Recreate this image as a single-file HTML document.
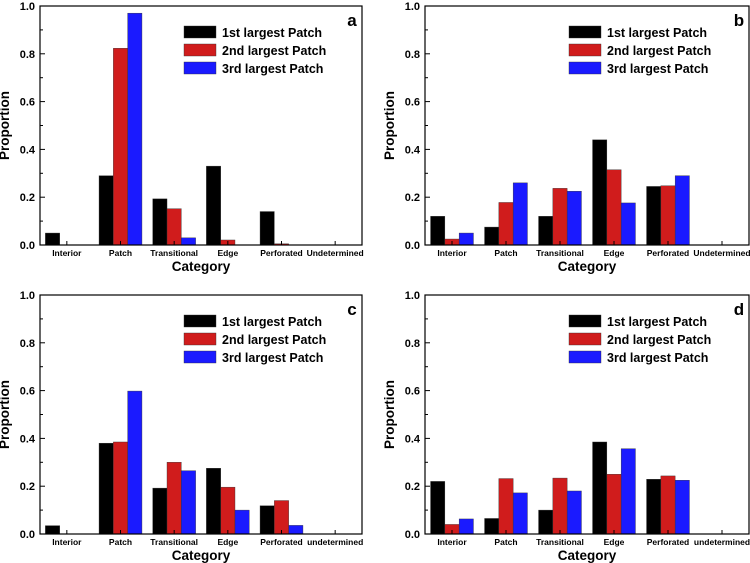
<!DOCTYPE html>
<html><head><meta charset="utf-8"><style>
html,body{margin:0;padding:0;background:#fff;}
svg{display:block;font-family:"Liberation Sans",Arial,sans-serif;font-weight:bold;}
</style></head><body>
<svg id="chart" width="750" height="563" viewBox="0 0 750 563" xmlns="http://www.w3.org/2000/svg"></svg>
<script>
const categoriesAB = ["Interior","Patch","Transitional","Edge","Perforated","Undetermined"];
const categoriesC = ["Interior","Patch","Transitional","Edge","Perforated","undetermined"];
const seriesNames = ["1st largest Patch","2nd largest Patch","3rd largest Patch"];
const yTicks = ["0.0","0.2","0.4","0.6","0.8","1.0"];
const a1 = [0.05,0.29,0.193,0.33,0.14,0];
const a2 = [0,0.823,0.152,0.021,0.005,0];
const a3 = [0,0.97,0.03,0,0,0];
const b1 = [0.12,0.075,0.12,0.44,0.245,0];
const b2 = [0.025,0.178,0.237,0.315,0.248,0];
const b3 = [0.05,0.26,0.225,0.176,0.29,0];
const c1 = [0.035,0.38,0.192,0.275,0.118,0];
const c2 = [0,0.385,0.3,0.196,0.14,0];
const c3 = [0,0.598,0.265,0.1,0.036,0];
const d1 = [0.22,0.065,0.10,0.385,0.229,0];
const d2 = [0.04,0.232,0.234,0.25,0.243,0];
const d3 = [0.063,0.172,0.18,0.357,0.225,0];

const colors = ["#000000","#d01c1c","#1a1aff"];
const NS = "http://www.w3.org/2000/svg";
const svg = document.getElementById("chart");
function mk(tag, attrs, parent, text){
  const e = document.createElementNS(NS, tag);
  for (const k in attrs) e.setAttribute(k, attrs[k]);
  if (text !== undefined) e.textContent = text;
  (parent||svg).appendChild(e);
  return e;
}
function panel(id, x0, x1, yTop, yBot, cats, s1, s2, s3){
  const g = mk("g", {});
  
  
  const yS = v => yBot - v*(yBot-yTop);
  const step = (x1-x0)/cats.length;
  const xC = i => x0 + step*(i+0.5);
  const bw = 14.3;
  const series = [s1,s2,s3];
  series.forEach((arr, si) => {
    arr.forEach((v, i) => {
      if (v <= 0) return;
      const r = mk("rect", {x: xC(i) - bw*1.5 + si*bw, y: yS(v), width: bw, height: yBot - yS(v), fill: colors[si], stroke:"#333", "stroke-width":0.4}, g);
      
      
    });
  });
  // axes frame
  const fr = mk("rect", {x:x0, y:yTop, width:x1-x0, height:yBot-yTop, fill:"none", stroke:"#000", "stroke-width":1.2}, g);
  
  
  // y ticks
  for (let k=0;k<=10;k++){
    const y = yS(k/10);
    mk("line", {x1:x0, x2:x0 + (k%2===0?5:3), y1:y, y2:y, stroke:"#000", "stroke-width":1}, g);
  }
  yTicks.forEach(t => {
    const tl = mk("text", {x:x0-5, y:yS(parseFloat(t))+4, "text-anchor":"end", "font-size":11}, g, t);
    
    
  });
  // x ticks & labels
  cats.forEach((c,i) => {
    mk("line", {x1:xC(i), x2:xC(i), y1:yBot, y2:yBot-4, stroke:"#000", "stroke-width":1}, g);
    const cl = mk("text", {x:xC(i), y:yBot+11, "text-anchor":"middle", "font-size":8.5}, g, c);
    
    
  });
  const xt = mk("text", {x:(x0+x1)/2, y:yBot+26, "text-anchor":"middle", "font-size":13.5}, g, "Category");
  
  
  const ycx = x0-31, ycy = (yTop+yBot)/2;
  const yt = mk("text", {x:ycx, y:ycy, "text-anchor":"middle", "font-size":13.5, transform:`rotate(-90 ${ycx} ${ycy})`}, g, "Proportion");
  
  
  const pl = mk("text", {x:x1-10, y:yTop+20, "text-anchor":"middle", "font-size":17}, g, id);
  
  
  // legend
  const lx = x0 + 144;
  seriesNames.forEach((n, si) => {
    const ly = yTop + 20 + si*18;
    const lr = mk("rect", {x:lx, y:ly, width:32, height:12, fill:colors[si], stroke:"#333", "stroke-width":0.4}, g);
    
    
    const lt = mk("text", {x:lx+38, y:ly+11, "font-size":12.5}, g, n);
    
    
  });
}
panel("a", 40, 362, 6, 245, categoriesAB, a1, a2, a3);
panel("b", 425, 749, 6, 245, categoriesAB, b1, b2, b3);
panel("c", 40, 362, 295, 534, categoriesC, c1, c2, c3);
panel("d", 425, 749, 295, 534, categoriesC, d1, d2, d3);
</script>
</body></html>
